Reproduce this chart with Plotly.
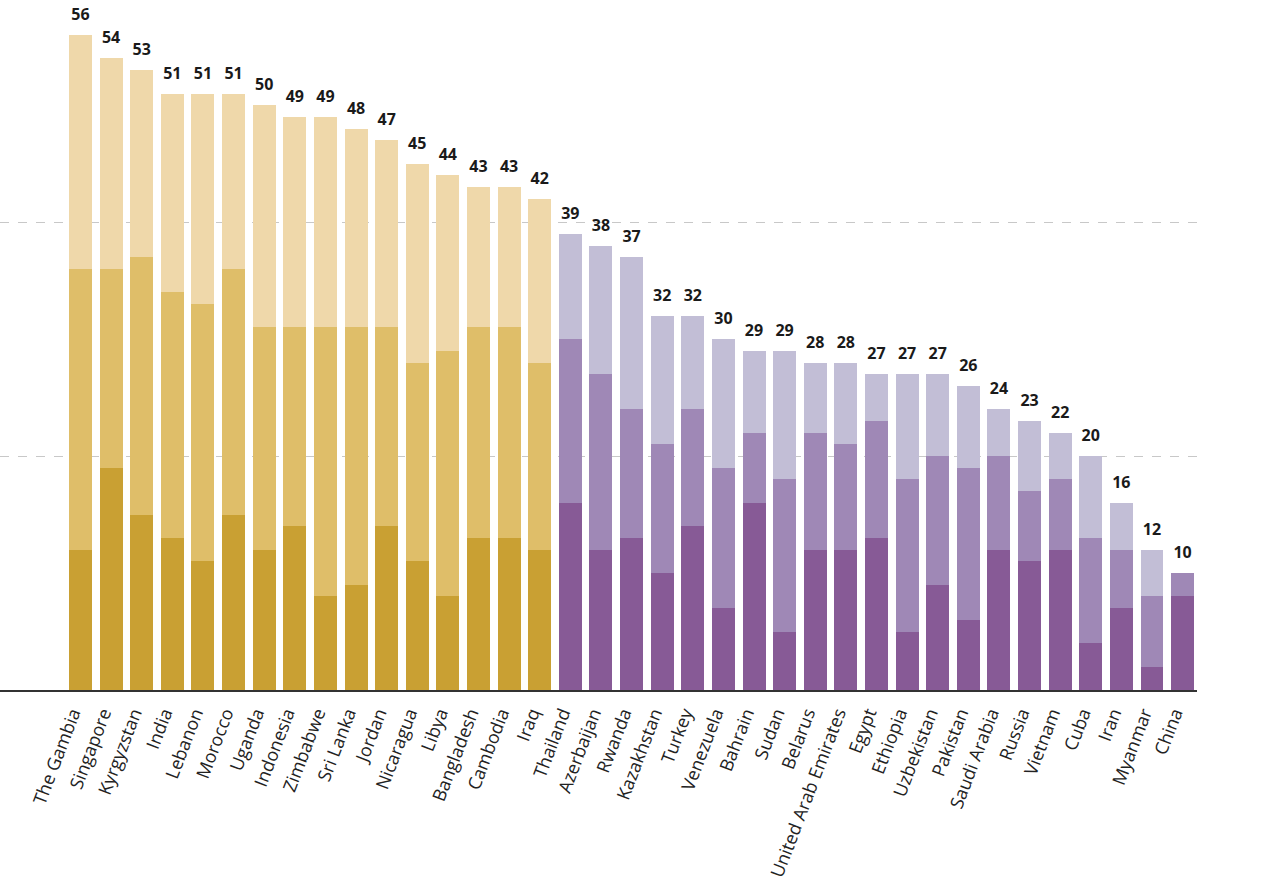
import plotly.graph_objects as go

countries = ["The Gambia", "Singapore", "Kyrgyzstan", "India", "Lebanon", "Morocco", "Uganda",
             "Indonesia", "Zimbabwe", "Sri Lanka", "Jordan", "Nicaragua", "Libya", "Bangladesh",
             "Cambodia", "Iraq", "Thailand", "Azerbaijan", "Rwanda", "Kazakhstan", "Turkey",
             "Venezuela", "Bahrain", "Sudan", "Belarus", "United Arab Emirates", "Egypt",
             "Ethiopia", "Uzbekistan", "Pakistan", "Saudi Arabia", "Russia", "Vietnam", "Cuba",
             "Iran", "Myanmar", "China"]

bottom = [12, 19, 15, 13, 11, 15, 12, 14, 8, 9, 14, 11, 8, 13, 13, 12,
          16, 12, 13, 10, 14, 7, 16, 5, 12, 12, 13, 5, 9, 6, 12, 11, 12, 4, 7, 2, 8]
middle = [24, 17, 22, 21, 22, 21, 19, 17, 23, 22, 17, 17, 21, 18, 18, 16,
          14, 15, 11, 11, 10, 12, 6, 13, 10, 9, 10, 13, 11, 13, 8, 6, 6, 9, 5, 6, 2]
top = [20, 18, 16, 17, 18, 15, 19, 18, 18, 17, 16, 17, 15, 12, 12, 14,
       9, 11, 13, 11, 8, 11, 7, 11, 6, 7, 4, 9, 7, 7, 4, 6, 4, 7, 4, 4, 0]
totals = [56, 54, 53, 51, 51, 51, 50, 49, 49, 48, 47, 45, 44, 43, 43, 42,
          39, 38, 37, 32, 32, 30, 29, 29, 28, 28, 27, 27, 27, 26, 24, 23, 22, 20, 16, 12, 10]
n_gold = 16

gold = ["#C9A033", "#DFBE69", "#EFD8AA"]
purple = ["#875A96", "#9F88B6", "#C2BED6"]

def colors(level):
    return [gold[level] if i < n_gold else purple[level] for i in range(len(countries))]

fig = go.Figure()
for lvl, vals in enumerate([bottom, middle, top]):
    fig.add_trace(go.Bar(x=countries, y=vals, marker=dict(color=colors(lvl), line=dict(width=0)),
                         showlegend=False, hoverinfo="x+y"))

fig.add_trace(go.Scatter(x=countries, y=totals, mode="markers+text", text=[str(t) for t in totals],
                         textposition="top center",
                         marker=dict(size=16, opacity=0),
                         textfont=dict(family="Open Sans", size=16, color="#1a1a1a", weight="bold"),
                         showlegend=False, hoverinfo="skip", cliponaxis=False))

fig.update_layout(
    barmode="stack",
    bargap=0.25,
    width=1280, height=891,
    margin=dict(l=0, r=83, t=0, b=201),
    plot_bgcolor="white", paper_bgcolor="white",
    font=dict(family="Open Sans", color="#222"),
    xaxis=dict(range=[-2.63, 36.47], tickangle=-69, showgrid=False,
               showline=True, linecolor="#333", linewidth=1.5, ticks="", automargin=False,
               ticklabelshift=-8, ticklabelstandoff=4,
               tickfont=dict(family="Open Sans", size=18, color="#222"), fixedrange=True),
    yaxis=dict(range=[0, 59], tickvals=[20, 40], showticklabels=False, showgrid=True,
               gridcolor="#c8c8c8", griddash="dash", gridwidth=1, zeroline=False,
               automargin=False, fixedrange=True),
)

fig.write_html("out.html", config={"displayModeBar": False},
               post_script="document.body.style.margin='0';")
